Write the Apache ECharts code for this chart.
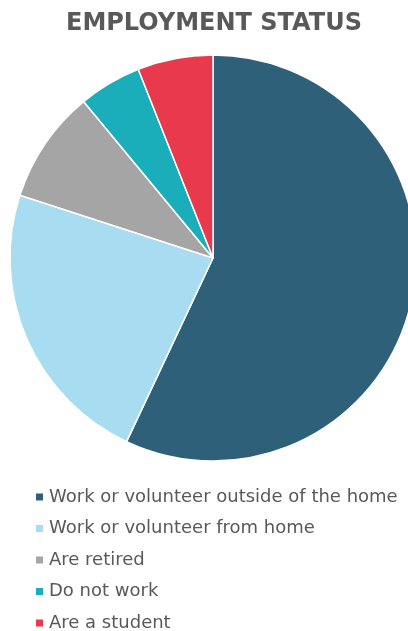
<!DOCTYPE html>
<html lang="en">
<head>
    <meta charset="UTF-8">
    <title>Employment Status</title>
    <style>
        html, body { margin: 0; padding: 0; background: #fff; }
        #chart { width: 408px; height: 631px; }
    </style>
    <script src="https://cdn.jsdelivr.net/npm/echarts@6/dist/echarts.min.js"></script>
</head>
<body>
<div id="chart"></div>
<script>
    // Data (percent of respondents)
    var categories = [
        'Work or volunteer outside of the home',
        'Work or volunteer from home',
        'Are retired',
        'Do not work',
        'Are a student'
    ];
    var values = [57, 23, 9, 5, 6];
    var colors = ['#2e6079', '#a8dcf0', '#a5a5a5', '#1aadba', '#e83a4c'];

    var chart = echarts.init(document.getElementById('chart'));

    var option = {
        animation: false,
        title: {
            text: 'EMPLOYMENT STATUS',
            left: 66,
            top: 12,
            padding: 0,
            textStyle: {
                fontFamily: 'DejaVu Sans, sans-serif',
                fontSize: 24,
                fontWeight: 'bold',
                color: '#595959'
            }
        },
        legend: {
            orient: 'vertical',
            left: 34,
            top: 488,
            height: 150,
            padding: 0,
            icon: 'rect',
            itemWidth: 9,
            itemHeight: 9,
            itemGap: 13.5,
            itemTextGap: 2,
            textStyle: {
                fontFamily: 'DejaVu Sans, sans-serif',
                fontSize: 18,
                color: '#595959'
            },
            data: categories
        },
        series: [
            {
                name: 'Employment status',
                type: 'pie',
                center: [213, 258],
                radius: 203,
                startAngle: 90,
                clockwise: true,
                label: { show: false },
                labelLine: { show: false },
                itemStyle: { borderColor: '#ffffff', borderWidth: 1.5 },
                data: categories.map(function (name, i) {
                    return { name: name, value: values[i], itemStyle: { color: colors[i] } };
                })
            }
        ]
    };
    chart.setOption(option);
</script>
</body>
</html>
